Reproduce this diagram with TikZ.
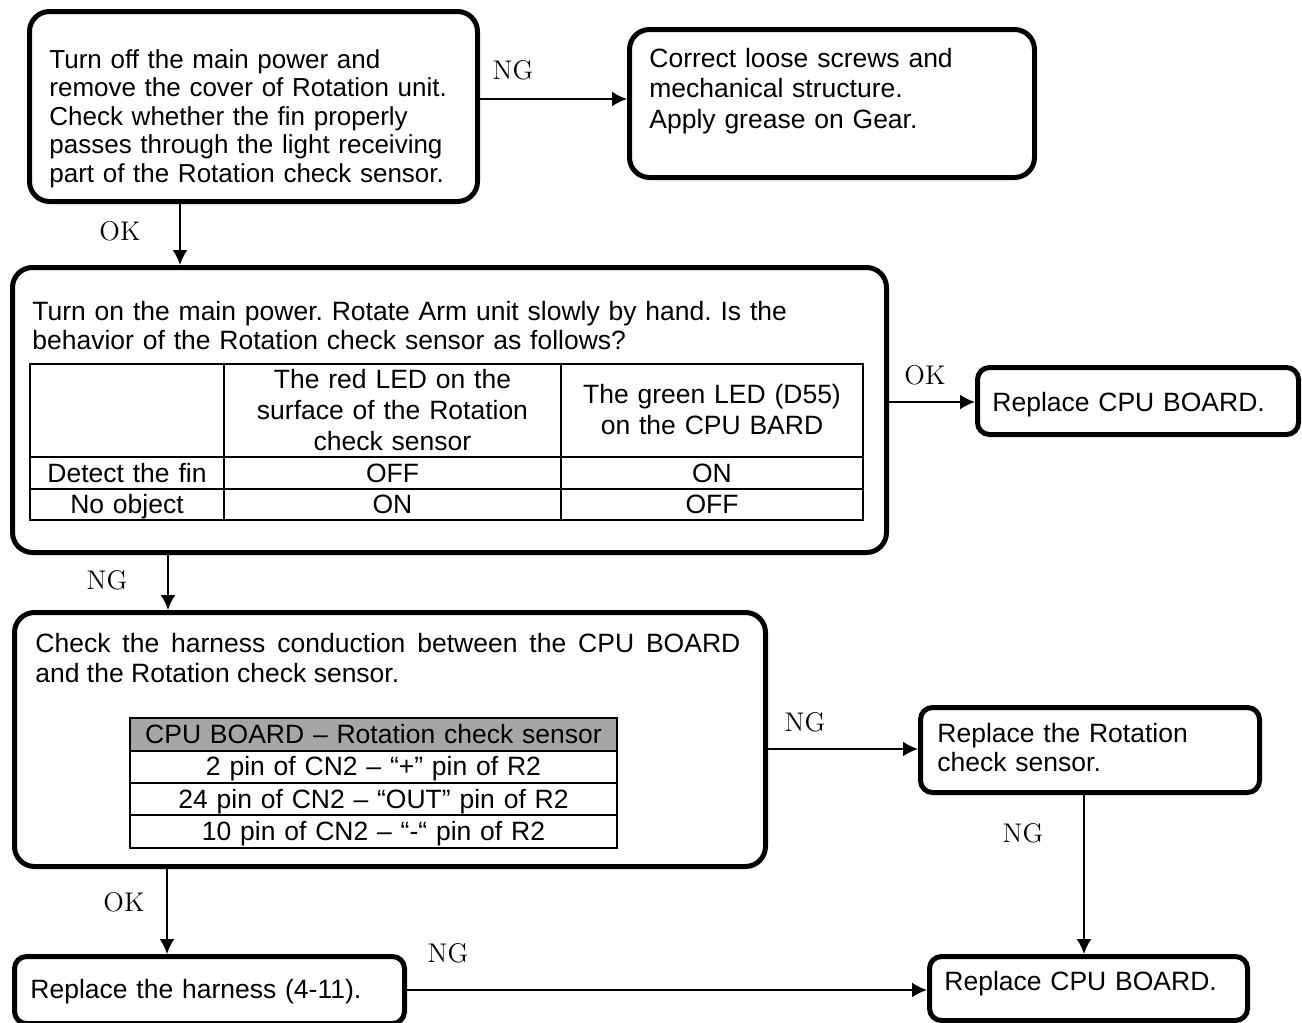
\documentclass[tikz,border=0pt]{standalone}
\usepackage{fontspec}
\newfontfamily\arialfont{Liberation Sans}
\usetikzlibrary{arrows.meta}
\frenchspacing
\tikzstyle{box}=[draw=black,line width=2.5pt,rounded corners=10pt,anchor=north west,inner sep=0pt]
\tikzstyle{small box}=[box,rounded corners=6pt]
\tikzstyle{txt}=[anchor=base west,inner sep=0pt,align=left,text width=420pt,font=\arialfont\fontsize{13.25}{15}\selectfont]
\tikzstyle{cell}=[anchor=base,inner sep=0pt,align=center,text width=240pt,font=\arialfont\fontsize{13.25}{15.5}\selectfont]
\tikzstyle{lbl}=[inner sep=0pt,font=\fontsize{13.5}{15}\selectfont]
\tikzstyle{post}=[->,line width=1pt]
\tikzstyle{grid}=[line width=1pt]

\begin{document}
\begin{tikzpicture}[x=0.5pt,y=-0.5pt,>={Latex[length=7.5pt,width=7.5pt]}]
  \useasboundingbox (0,0) rectangle (1302,1023);
  % boxes
  \node [box, minimum width=224pt, minimum height=95pt]          (fin)     at (27,9)    {};
  \node [box, minimum width=202.5pt, minimum height=74pt]        (grease)  at (627,27)  {};
  \node [box, minimum width=437pt, minimum height=142.5pt]       (led)     at (10,265)  {};
  \node [small box, minimum width=160.5pt, minimum height=33.5pt] (cpuA)   at (975,365) {};
  \node [box, minimum width=375.5pt, minimum height=127pt]       (harness) at (12,610)  {};
  \node [small box, minimum width=169.5pt, minimum height=42.5pt] (sensor) at (918,705) {};
  \node [small box, minimum width=159pt, minimum height=32pt]    (cpuB)    at (927,954) {};
  \node [small box, minimum width=195pt, minimum height=33.5pt]  (cable)   at (12,954)  {};

  % texts
  \node [txt, font=\arialfont\fontsize{13}{14.2}\selectfont] (fintxt) at (49,68.5)
    {Turn off the main power and\\remove the cover of Rotation unit.\\Check whether the fin properly\\passes through the light receiving\\part of the Rotation check sensor.};
  \node [txt, font=\arialfont\fontsize{13.25}{15.25}\selectfont] (greasetxt) at (649,67)
    {Correct loose screws and\\mechanical structure.\\Apply grease on Gear.};
  \node [txt, font=\arialfont\fontsize{13.25}{14.5}\selectfont] (ledtxt) at (32,320)
    {Turn on the main power. Rotate Arm unit slowly by hand. Is the\\behavior of the Rotation check sensor as follows?};
  \node [txt] (cpuAtxt) at (992,411) {Replace CPU BOARD.};
  \node [txt, text width=352.5pt, align=justify] (harnesstxt) at (35,652)
    {Check the harness conduction between the CPU BOARD\linebreak and the Rotation check sensor.};
  \node [txt, font=\arialfont\fontsize{13.25}{14.5}\selectfont] (sensortxt) at (937,742) {Replace the Rotation\\check sensor.};
  \node [txt] (cpuBtxt) at (944,990) {Replace CPU BOARD.};
  \node [txt] (cabletxt) at (30,998) {Replace the harness (4-11).};

  % LED table
  \draw [grid] (30,364) rectangle (863,520);
  \foreach \y in {457,489} \draw [grid] (30,\y) -- (863,\y);
  \foreach \x in {224,561} \draw [grid] (\x,364) -- (\x,520);
  \node [cell] (red)    at (392.5,388) {The red LED on the\\surface of the Rotation\\check sensor};
  \node [cell] (green)  at (712,403)   {The green LED (D55)\\on the CPU BARD};
  \node [cell] (detect) at (127,482)   {Detect the fin};
  \node [cell] (redA)   at (392.5,482) {OFF};
  \node [cell] (greenA) at (712,482)   {ON};
  \node [cell] (none)   at (127,513)   {No object};
  \node [cell] (redB)   at (392.5,513) {ON};
  \node [cell] (greenB) at (712,513)   {OFF};

  % harness table
  \fill [black!35] (130,718) rectangle (617,751);
  \draw [grid] (130,718) rectangle (617,848);
  \foreach \y in {751,783,815} \draw [grid] (130,\y) -- (617,\y);
  \node [cell] (pinhead) at (373.5,743) {CPU BOARD – Rotation check sensor};
  \node [cell] (pinA)    at (373.5,775) {2 pin of CN2 – “+” pin of R2};
  \node [cell] (pinB)    at (373.5,808) {24 pin of CN2 – “OUT” pin of R2};
  \node [cell] (pinC)    at (373.5,840) {10 pin of CN2 – “-“ pin of R2};

  % connectors
  \draw [post] (fin.east |- 0,99)      -- (grease.west |- 0,99);
  \draw [post] (fin.south -| 180,0)    -- (led.north -| 180,0);
  \draw [post] (led.east |- 0,402)     -- (cpuA.west |- 0,402);
  \draw [post] (led.south -| 168,0)    -- (harness.north -| 168,0);
  \draw [post] (harness.east |- 0,749) -- (sensor.west |- 0,749);
  \draw [post] (sensor.south -| 1084,0) -- (cpuB.north -| 1084,0);
  \draw [post] (harness.south -| 167,0) -- (cable.north -| 167,0);
  \draw [post] (cable.east |- 0,990)   -- (cpuB.west |- 0,990);

  % labels
  \node [lbl] (ng1) at (513,70)   {NG};
  \node [lbl] (ok1) at (120,231)  {OK};
  \node [lbl] (ok2) at (925,375)  {OK};
  \node [lbl] (ng2) at (107,580)  {NG};
  \node [lbl] (ng3) at (805,722)  {NG};
  \node [lbl] (ng4) at (1023,833) {NG};
  \node [lbl] (ok3) at (124,902)  {OK};
  \node [lbl] (ng5) at (448,953)  {NG};
\end{tikzpicture}
\end{document}
